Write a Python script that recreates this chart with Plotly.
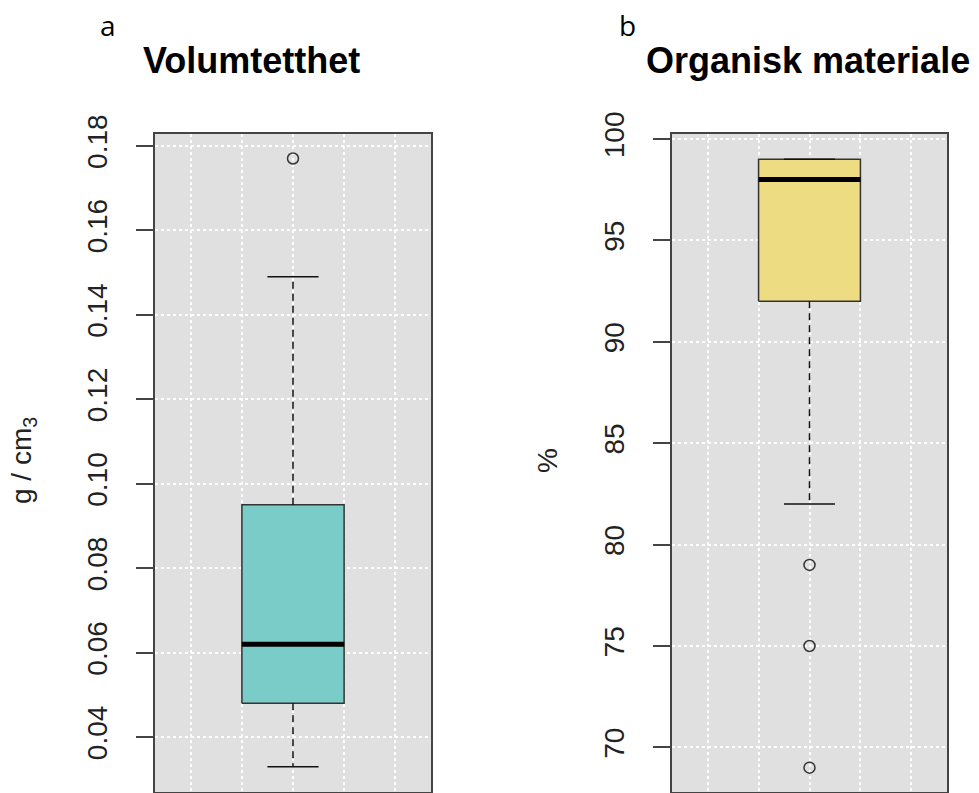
import plotly.graph_objects as go

# ---- data ----
titles = ["Volumtetthet", "Organisk materiale"]
panel_letters = ["a", "b"]
y_titles = ["g / cm<sub>3</sub>", "%"]

vol_whisker_low = 0.033
vol_q1 = 0.048
vol_median = 0.062
vol_q3 = 0.095
vol_whisker_high = 0.149
vol_outliers = [0.177]
vol_ticks = [0.04, 0.06, 0.08, 0.10, 0.12, 0.14, 0.16, 0.18]
vol_ticktext = ["0.04", "0.06", "0.08", "0.10", "0.12", "0.14", "0.16", "0.18"]

org_whisker_low = 82
org_q1 = 92
org_median = 98
org_q3 = 99
org_whisker_high = 99
org_outliers = [79, 75, 69]
org_ticks = [70, 75, 80, 85, 90, 95, 100]
org_ticktext = ["70", "75", "80", "85", "90", "95", "100"]

# ---- style ----
W, H = 979, 793
BOXW = 0.4
CAPW = 0.2
POS = 1.0
fills = ["#7ACCC8", "#EEDC82"]
edge = "#333333"
FONT = "Liberation Sans, Arial, sans-serif"

fig = go.Figure()

panels = [
    (vol_whisker_low, vol_q1, vol_median, vol_q3, vol_whisker_high, vol_outliers),
    (org_whisker_low, org_q1, org_median, org_q3, org_whisker_high, org_outliers),
]

for i, (lo, q1, med, q3, hi, outl) in enumerate(panels):
    xa = "x" if i == 0 else "x2"
    ya = "y" if i == 0 else "y2"
    # box
    fig.add_trace(go.Scatter(
        x=[POS - BOXW / 2, POS + BOXW / 2, POS + BOXW / 2, POS - BOXW / 2, POS - BOXW / 2],
        y=[q1, q1, q3, q3, q1], fill="toself", fillcolor=fills[i],
        mode="lines", line=dict(color=edge, width=1.5),
        xaxis=xa, yaxis=ya, hoverinfo="skip", showlegend=False))
    # whiskers
    for a, b in [(q3, hi), (q1, lo)]:
        fig.add_trace(go.Scatter(
            x=[POS, POS], y=[a, b], mode="lines",
            line=dict(color="#111111", width=1.5, dash="7px,5px"),
            xaxis=xa, yaxis=ya, hoverinfo="skip", showlegend=False))
    # caps
    for v in [lo, hi]:
        fig.add_trace(go.Scatter(
            x=[POS - CAPW / 2, POS + CAPW / 2], y=[v, v], mode="lines",
            line=dict(color="#111111", width=1.5),
            xaxis=xa, yaxis=ya, hoverinfo="skip", showlegend=False))
    # median
    fig.add_trace(go.Scatter(
        x=[POS - BOXW / 2, POS + BOXW / 2], y=[med, med], mode="lines",
        line=dict(color="#000000", width=5),
        xaxis=xa, yaxis=ya, hoverinfo="skip", showlegend=False))
    # outliers
    fig.add_trace(go.Scatter(
        x=[POS] * len(outl), y=outl, mode="markers",
        marker=dict(symbol="circle-open", size=11, color="#333333", line=dict(width=1.5)),
        xaxis=xa, yaxis=ya, hoverinfo="skip", showlegend=False))

ydom = [1 - 792 / H, 1 - 134 / H]
xdoms = [[155 / W, 431 / W], [672 / W, 947 / W]]

common_x = dict(range=[0.46, 1.54], showticklabels=False, ticks="",
                tickvals=[0.6, 0.8, 1.0, 1.2, 1.4], showgrid=True,
                gridcolor="white", griddash="3px,3px", gridwidth=1.5,
                showline=True, linecolor="#444444", linewidth=1.5, mirror=True,
                zeroline=False, fixedrange=True, automargin=False)
common_y = dict(showgrid=True, gridcolor="white", griddash="3px,3px", gridwidth=1.5,
                showline=True, linecolor="#444444", linewidth=1.5, mirror=True,
                ticks="outside", ticklen=17, tickwidth=1.5, tickcolor="#444444",
                tickangle=-90, ticklabelstandoff=18,
                tickfont=dict(family=FONT, size=28, color="#222222"),
                zeroline=False, fixedrange=True, automargin=False)

fig.update_layout(
    width=W, height=H,
    margin=dict(l=0, r=0, t=0, b=0, autoexpand=False),
    paper_bgcolor="white", plot_bgcolor="#E0E0E0",
    xaxis=dict(domain=xdoms[0], anchor="y", **common_x),
    xaxis2=dict(domain=xdoms[1], anchor="y2", **common_x),
    yaxis=dict(domain=ydom, anchor="x", range=[0.0270, 0.1828],
               tickvals=vol_ticks, ticktext=vol_ticktext, **common_y),
    yaxis2=dict(domain=ydom, anchor="x2", range=[67.8, 100.25],
                tickvals=org_ticks, ticktext=org_ticktext, **common_y),
)

annos = []
title_x = [251, 808]
letter_x = [108, 627]
ytitle_x = [24, 548]
for i in range(2):
    annos.append(dict(text="<b>" + titles[i] + "</b>", x=title_x[i] / W, y=1 - 61 / H,
                      xref="paper", yref="paper", showarrow=False,
                      xanchor="center", yanchor="middle",
                      font=dict(family=FONT, size=36, color="#000000")))
    annos.append(dict(text=panel_letters[i], x=letter_x[i] / W, y=1 - 25 / H,
                      xref="paper", yref="paper", showarrow=False,
                      xanchor="center", yanchor="middle",
                      font=dict(family="Open Sans, sans-serif", size=28, color="#000000")))
    annos.append(dict(text=y_titles[i], x=ytitle_x[i] / W, y=1 - 461 / H,
                      xref="paper", yref="paper", showarrow=False, textangle=-90,
                      xanchor="center", yanchor="middle",
                      font=dict(family=FONT, size=28, color="#222222")))
fig.update_layout(annotations=annos)

post = (
    "document.documentElement.style.margin='0';"
    "document.body.style.margin='0';"
    "document.documentElement.style.overflow='hidden';"
    "document.body.style.overflow='hidden';"
    "var d=document.querySelector('.plotly-graph-div');"
    "d.style.position='absolute';d.style.top='0px';d.style.left='0px';"
)

fig.write_html("out.html", config={"displayModeBar": False}, post_script=post)
